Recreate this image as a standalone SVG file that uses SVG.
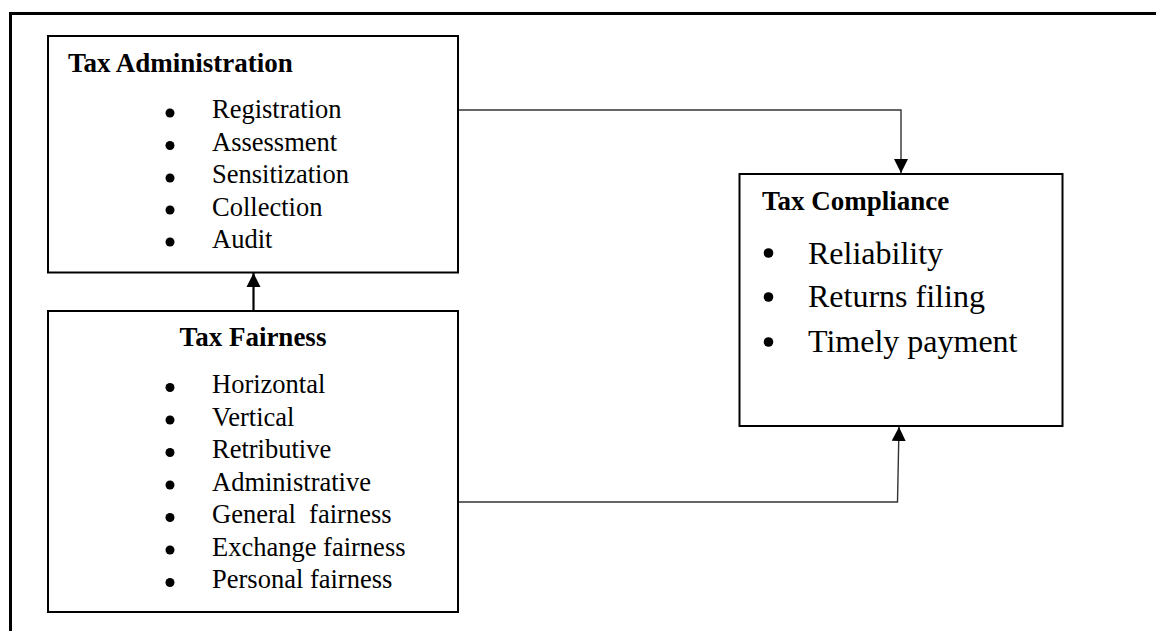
<svg xmlns="http://www.w3.org/2000/svg" width="1156" height="631" viewBox="0 0 1156 631">
<style>
.box{fill:#fff;stroke:#000;stroke-width:2}
.t{font-family:"Liberation Serif","Times New Roman",serif;fill:#000}
.h{font-size:27px;font-weight:bold}
.i{font-size:26.5px}
.big{font-size:32px}
.conn{fill:none;stroke:#333;stroke-width:1.4}
</style>
<defs>
<marker id="arr" viewBox="0 0 10 10" refX="10" refY="5" markerWidth="14" markerHeight="15" markerUnits="userSpaceOnUse" orient="auto">
<path d="M0,0 L10,5 L0,10 z" fill="#000"/>
</marker>
</defs>
<rect width="1156" height="631" fill="#fff"/>
<path d="M10.5,631 V13.5 H1156" fill="none" stroke="#000" stroke-width="3"/>

<g id="connectors">
<path class="conn" d="M458,110 H901 V173" marker-end="url(#arr)"/>
<path class="conn" d="M458,502 H897.5 L899,427" marker-end="url(#arr)"/>
<path class="conn" d="M253.5,310 V273" style="stroke:#000;stroke-width:2.2" marker-end="url(#arr)"/>
</g>

<g id="tax-administration">
<rect class="box" x="48" y="36" width="410" height="236.5"/>
<text class="t h" x="68" y="72">Tax Administration</text>
<g fill="#000">
<circle cx="170" cy="113" r="4.5"/><circle cx="170" cy="145.5" r="4.5"/><circle cx="170" cy="178" r="4.5"/><circle cx="170" cy="210" r="4.5"/><circle cx="170" cy="242" r="4.5"/>
</g>
<text class="t i" x="212" y="118">Registration</text>
<text class="t i" x="212" y="151">Assessment</text>
<text class="t i" x="212" y="183">Sensitization</text>
<text class="t i" x="212" y="216">Collection</text>
<text class="t i" x="212" y="248">Audit</text>
</g>

<g id="tax-fairness">
<rect class="box" x="48" y="311" width="410" height="301"/>
<text class="t h" x="253" y="346" text-anchor="middle">Tax Fairness</text>
<g fill="#000">
<circle cx="170" cy="387.5" r="4.5"/><circle cx="170" cy="420" r="4.5"/><circle cx="170" cy="452.5" r="4.5"/><circle cx="170" cy="485" r="4.5"/><circle cx="170" cy="517.5" r="4.5"/><circle cx="170" cy="550" r="4.5"/><circle cx="170" cy="582.5" r="4.5"/>
</g>
<text class="t i" x="212" y="393">Horizontal</text>
<text class="t i" x="212" y="425.5">Vertical</text>
<text class="t i" x="212" y="458">Retributive</text>
<text class="t i" x="212" y="490.5">Administrative</text>
<text class="t i" x="212" y="523" xml:space="preserve">General  fairness</text>
<text class="t i" x="212" y="555.5">Exchange fairness</text>
<text class="t i" x="212" y="588">Personal fairness</text>
</g>

<g id="tax-compliance">
<rect class="box" x="739.5" y="174" width="323" height="252"/>
<text class="t h" x="762" y="210">Tax Compliance</text>
<g fill="#000">
<circle cx="768.5" cy="253" r="4.8"/><circle cx="768.5" cy="297" r="4.8"/><circle cx="768.5" cy="342" r="4.8"/>
</g>
<text class="t big" x="808" y="263.5">Reliability</text>
<text class="t big" x="808" y="307">Returns filing</text>
<text class="t big" x="808" y="352">Timely payment</text>
</g>
</svg>
